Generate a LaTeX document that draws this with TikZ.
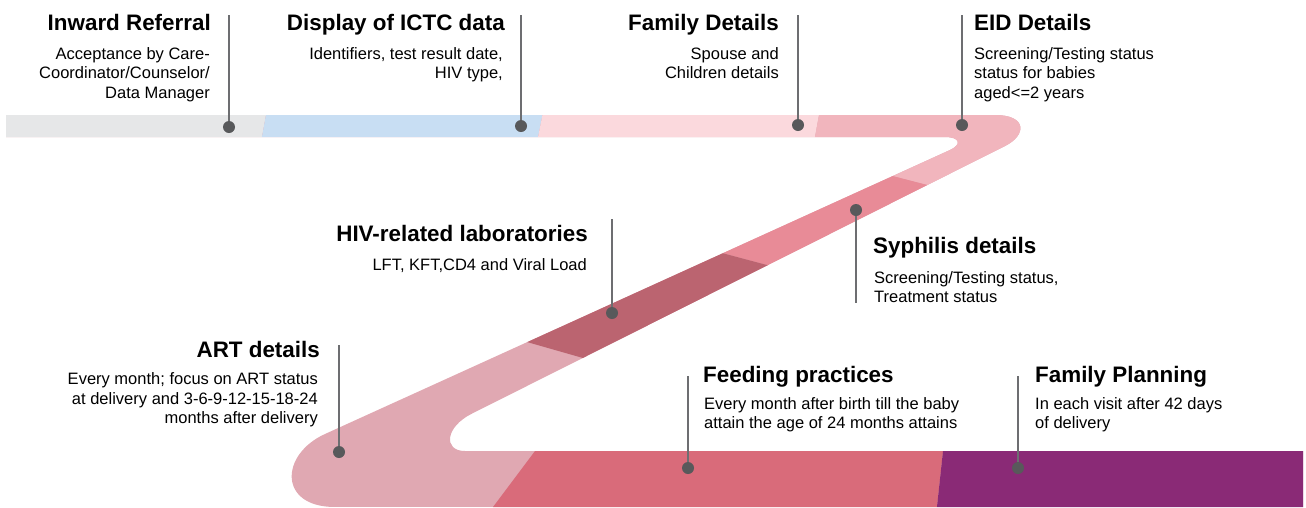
\documentclass[tikz,border=0pt]{standalone}
\usepackage{fontspec}
\setmainfont{Liberation Sans}
\definecolor{cgray}{HTML}{E6E7E8}
\definecolor{cblue}{HTML}{C8DEF3}
\definecolor{clpink}{HTML}{FBD9DD}
\definecolor{crose}{HTML}{F1B5BD}
\definecolor{csyph}{HTML}{E88B97}
\definecolor{chiv}{HTML}{BB6470}
\definecolor{cart}{HTML}{E0A8B2}
\definecolor{cfeed}{HTML}{D96B7A}
\definecolor{cfp}{HTML}{8A2A76}
\definecolor{dotc}{HTML}{58595B}
\definecolor{linec}{HTML}{6D6E71}
\begin{document}
\begin{tikzpicture}[x=1pt,y=-1pt,
  head/.style={inner sep=0pt,font=\fontsize{22.4}{26}\selectfont\bfseries},
  body/.style={inner sep=0pt,font=\fontsize{16.5}{19.5}\selectfont},
  pin/.style={circle,fill=dotc,inner sep=0pt,minimum size=12pt},
  lead/.style={draw=linec,line width=1.8pt}]
\useasboundingbox (0,0) rectangle (1306,507);

% ribbon
\begin{scope}
\clip (6,115) -- (995,115) .. controls (1027,115) and (1027,135) .. (1005,146)
  -- (472,413.6) .. controls (445,427) and (443,451) .. (465,451)
  -- (1303,451) -- (1303,507) -- (335,507)
  .. controls (278,507) and (280,454.4) .. (325,434)
  -- (950,150) .. controls (962,144.5) and (960,137) .. (945,137)
  -- (6,137) -- cycle;
\fill[cart] (0,0) rectangle (1306,507);
\fill[cgray] (0,100) -- (268.7,100) -- (260.5,145) -- (0,145) -- cycle;
\fill[cblue] (268.7,100) -- (545.4,100) -- (536.5,145) -- (260.5,145) -- cycle;
\fill[clpink] (545.4,100) -- (821.7,100) -- (813.5,145) -- (536.5,145) -- cycle;
\fill[crose] (821.7,100) -- (1100,100) -- (1100,230) -- (1000,203.8) -- (850,165) -- (813.5,145) -- cycle;
\fill[csyph] (850,165) -- (1000,203.8) -- (800,273.8) -- (680,241.8) -- cycle;
\fill[chiv] (680,241.8) -- (800,273.8) -- (620,368.6) -- (480,328.6) -- cycle;
\fill[cfeed] (543.3,440) -- (944.2,440) -- (936.1,515) -- (487,515) -- cycle;
\fill[cfp] (944.2,440) -- (1320,440) -- (1320,515) -- (936.1,515) -- cycle;
\end{scope}

% pins
\node[pin] (d1) at (229,127) {};
\node[pin] (d2) at (521,126) {};
\node[pin] (d3) at (798,125) {};
\node[pin] (d4) at (962,125) {};
\node[pin] (d5) at (856,210) {};
\node[pin] (d6) at (612,313) {};
\node[pin] (d7) at (339,452) {};
\node[pin] (d8) at (688,468) {};
\node[pin] (d9) at (1018,468) {};

\coordinate (e1) at (229,15);
\coordinate (e2) at (521,15);
\coordinate (e3) at (798,15);
\coordinate (e4) at (962,15);
\coordinate (e5) at (856,303);
\coordinate (e6) at (612,219);
\coordinate (e7) at (339,345);
\coordinate (e8) at (688,376);
\coordinate (e9) at (1018,376);

\draw[lead] (e1) -- (d1);
\draw[lead] (e2) -- (d2);
\draw[lead] (e3) -- (d3);
\draw[lead] (e4) -- (d4);
\draw[lead] (d5) -- (e5);
\draw[lead] (e6) -- (d6);
\draw[lead] (e7) -- (d7);
\draw[lead] (e8) -- (d8);
\draw[lead] (e9) -- (d9);

% texts (multi-line bodies anchored at the baseline of their last line)
\node[head,anchor=base east] (h1) at (211,30) {Inward Referral};
\node[body,anchor=base east,align=right] (b1) at (210,98) {Acceptance by Care-\\Coordinator/Counselor/\\Data Manager};
\node[head,anchor=base east] (h2) at (505,30) {Display of ICTC data};
\node[body,anchor=base east,align=right] (b2) at (503,78.5) {Identifiers, test result date,\\HIV type,};
\node[head,anchor=base east] (h3) at (779,30) {Family Details};
\node[body,anchor=base east,align=right] (b3) at (779,78.5) {Spouse and\\Children details};
\node[head,anchor=base west] (h4) at (974,30) {EID Details};
\node[body,anchor=base west,align=left] (b4) at (974,98) {Screening/Testing status\\status for babies\\aged<=2 years};

\node[head,anchor=base west] (h5) at (873,253) {Syphilis details};
\node[body,anchor=base west,align=left] (b5) at (874,302.5) {Screening/Testing status,\\Treatment status};
\node[head,anchor=base east] (h6) at (588,241) {HIV-related laboratories};
\node[body,anchor=base east] (b6) at (587,270) {LFT, KFT,CD4 and Viral Load};

\node[head,anchor=base east] (h7) at (320,357) {ART details};
\node[body,anchor=base east,align=right] (b7) at (318,423.5) {Every month; focus on ART status\\at delivery and 3-6-9-12-15-18-24\\months after delivery};
\node[head,anchor=base west] (h8) at (703,382) {Feeding practices};
\node[body,anchor=base west,align=left] (b8) at (704,428.5) {Every month after birth till the baby\\attain the age of 24 months attains};
\node[head,anchor=base west] (h9) at (1035,382) {Family Planning};
\node[body,anchor=base west,align=left] (b9) at (1035,428.5) {In each visit after 42 days\\of delivery};
\end{tikzpicture}
\end{document}
